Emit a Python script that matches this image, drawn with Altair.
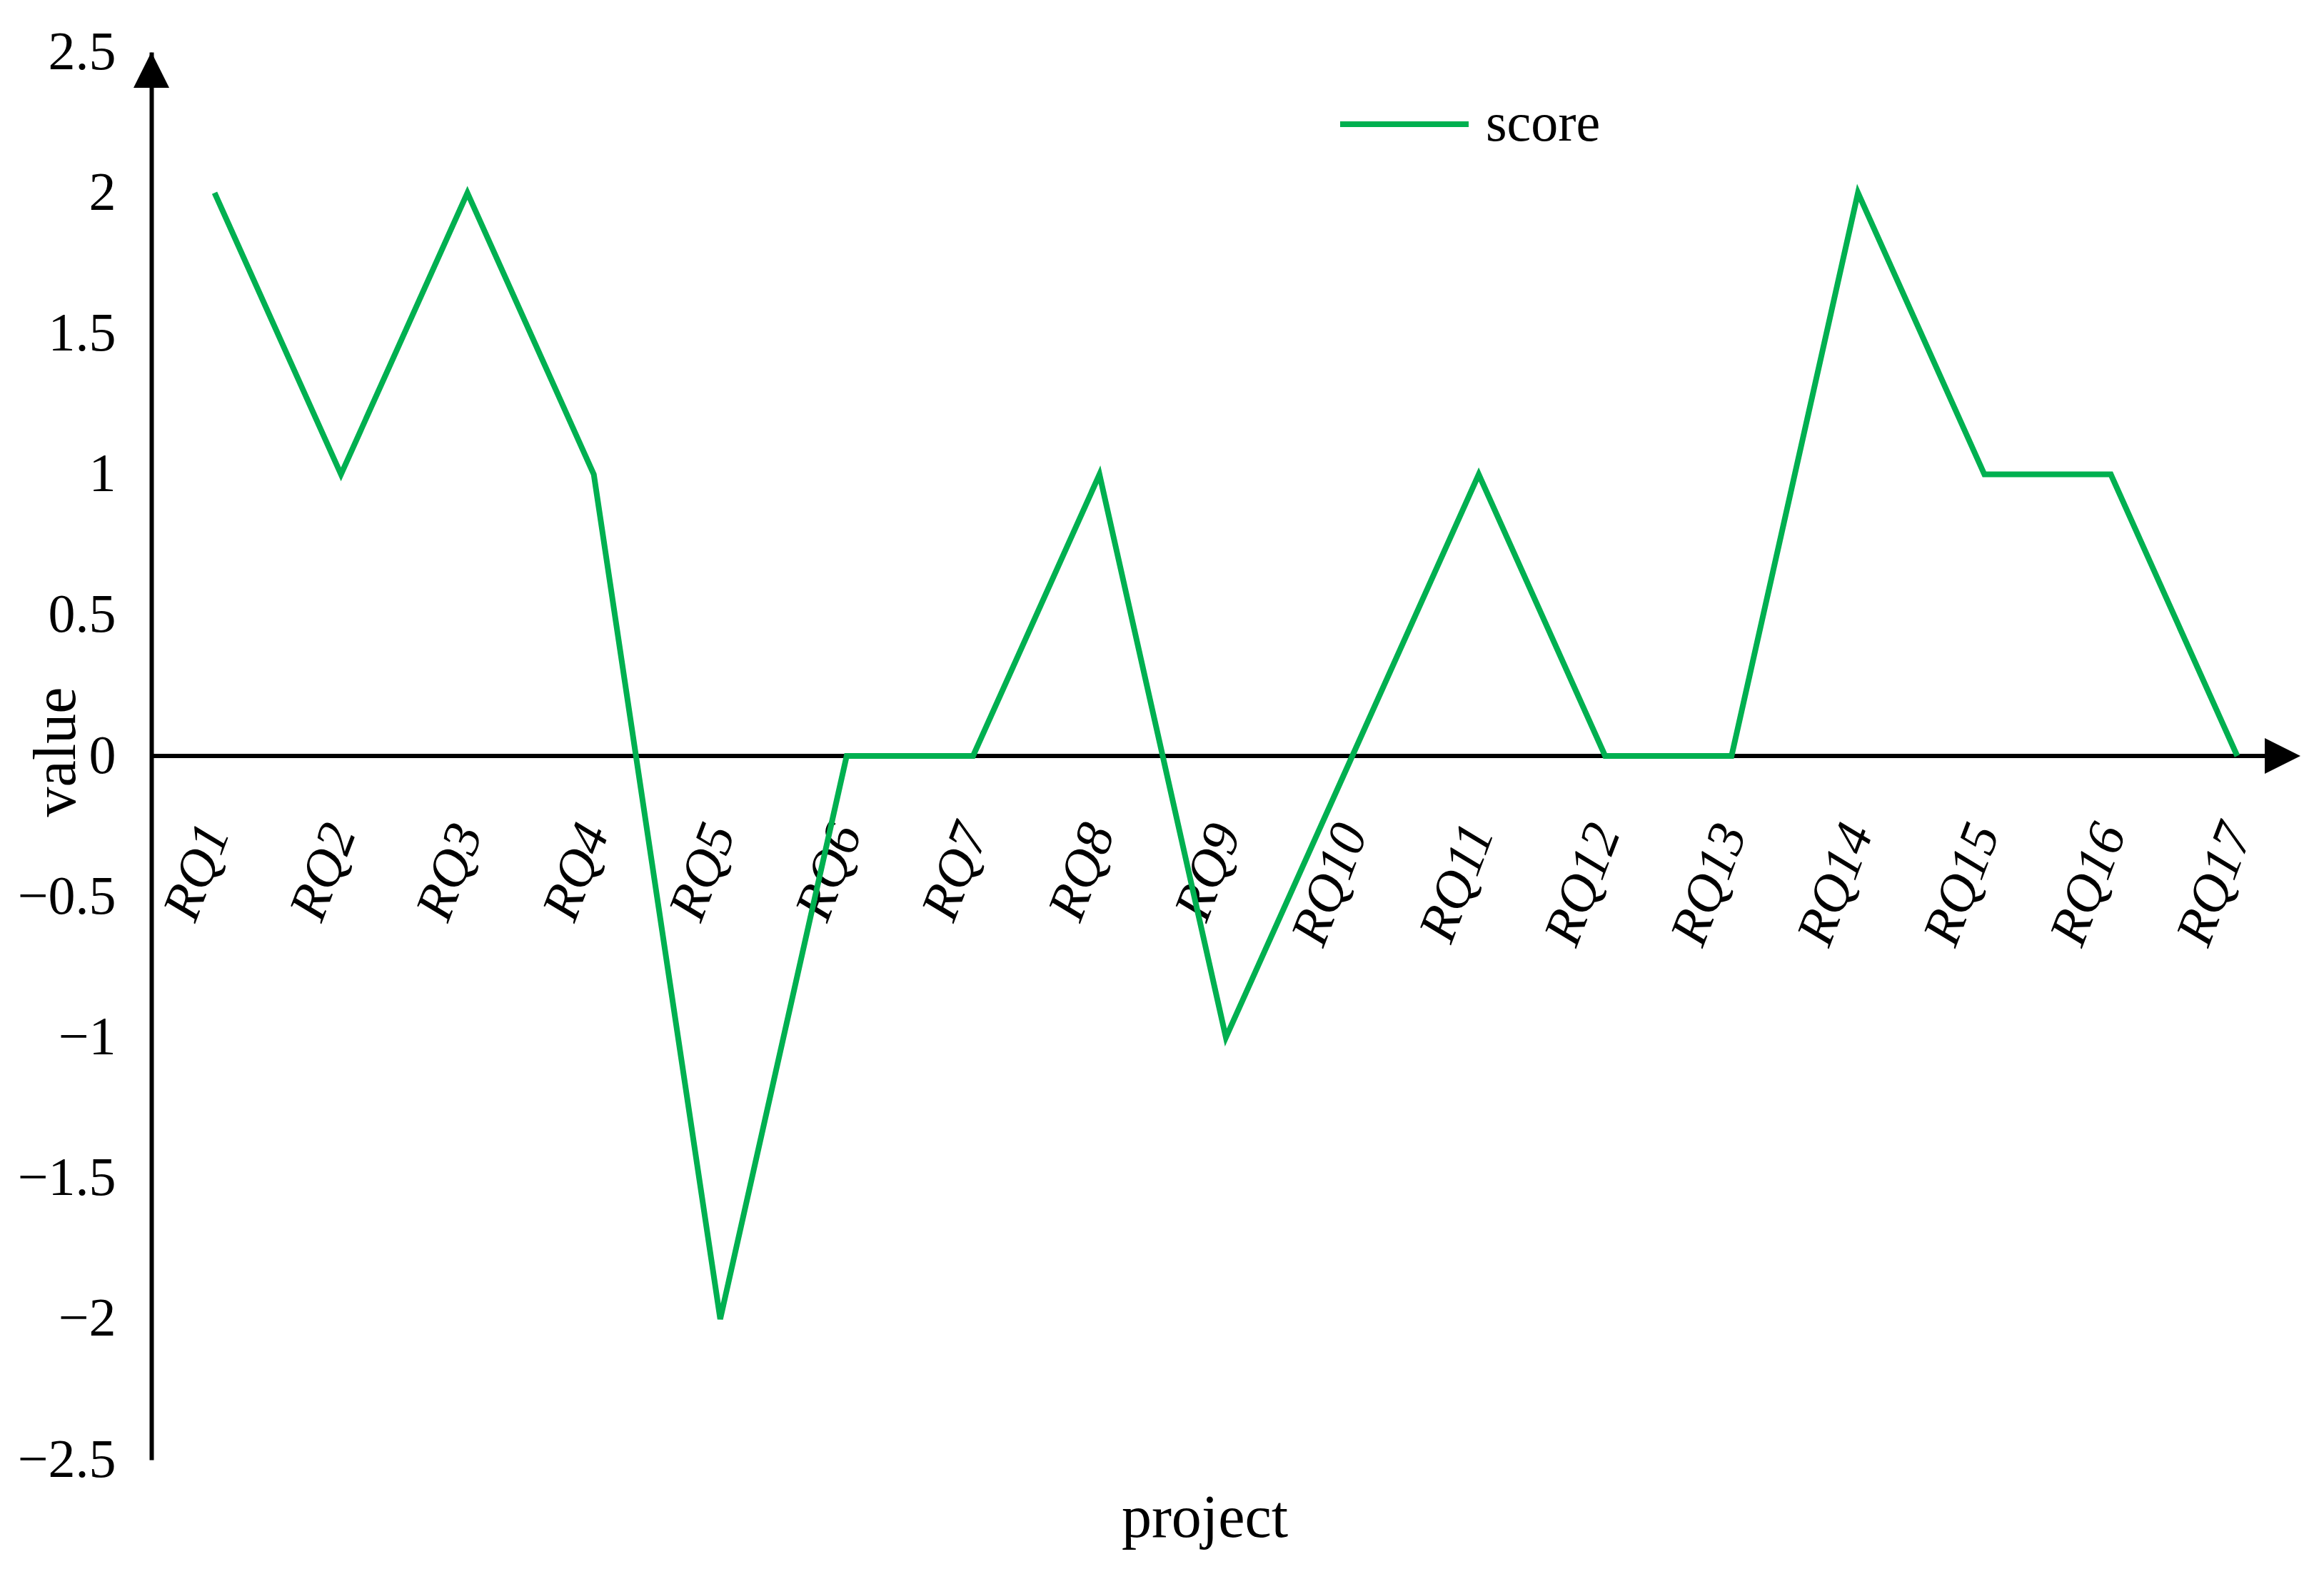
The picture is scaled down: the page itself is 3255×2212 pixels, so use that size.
import altair as alt
import pandas as pd

# ---- data ----
projects = ["RQ1", "RQ2", "RQ3", "RQ4", "RQ5", "RQ6", "RQ7", "RQ8", "RQ9",
            "RQ10", "RQ11", "RQ12", "RQ13", "RQ14", "RQ15", "RQ16", "RQ17"]
scores = [2, 1, 2, 1, -2, 0, 0, 1, -1, 0, 1, 0, 0, 2, 1, 1, 0]
y_ticks = [-2.5, -2, -1.5, -1, -0.5, 0, 0.5, 1, 1.5, 2, 2.5]
series_name = "score"

df = pd.DataFrame({"project": projects, "value": scores, "series": series_name})

PLOT_W = 3010
PLOT_H = 1972
FONT = "Liberation Serif"
GREEN = "#00B050"
AXIS_W = 6
ARROW = 50

x_enc = alt.X(
    "project:N",
    sort=projects,
    scale=alt.Scale(type="point", padding=0.5),
    axis=alt.Axis(
        title="project",
        titleFont=FONT,
        titleFontSize=84,
        titleFontWeight="normal",
        titleColor="black",
        titleBaseline="alphabetic",
        titleX=1475,
        titleY=1093,
        labelFont=FONT,
        labelFontSize=75,
        labelFontStyle="italic",
        labelColor="black",
        labelAngle=-69,
        labelAlign="right",
        labelBaseline="middle",
        labelPadding=98,
        labelLimit=0,
        ticks=False,
        tickSize=0,
        domain=False,
        grid=False,
        offset=-PLOT_H / 2,
    ),
)

y_scale = alt.Scale(domain=[-2.5, 2.5], nice=False, zero=False)

y_enc = alt.Y(
    "value:Q",
    scale=y_scale,
    axis=alt.Axis(
        title="value",
        values=y_ticks,
        format="~g",
        titleFont=FONT,
        titleFontSize=84,
        titleFontWeight="normal",
        titleColor="black",
        titleAngle=-90,
        titleBaseline="alphabetic",
        titleX=-108,
        titleY=980,
        labelFont=FONT,
        labelFontSize=76,
        labelColor="black",
        labelPadding=50,
        ticks=False,
        tickSize=0,
        domain=True,
        domainColor="black",
        domainWidth=AXIS_W,
        grid=False,
    ),
)

line = alt.Chart(df).mark_line(strokeWidth=8, strokeJoin="miter").encode(
    x=x_enc,
    y=y_enc,
    color=alt.Color(
        "series:N",
        scale=alt.Scale(domain=[series_name], range=[GREEN]),
        legend=alt.Legend(
            title=None,
            orient="none",
            legendX=1661,
            legendY=7,
            symbolType="stroke",
            symbolSize=180 * 180,
            symbolStrokeWidth=8,
            symbolStrokeColor=GREEN,
            labelFont=FONT,
            labelFontSize=76,
            labelColor="black",
            labelOffset=20,
            labelLimit=0,
            padding=0,
        ),
    ),
)

one = alt.Data(values=[{"a": 0}])

zero_line = alt.Chart(one).mark_rule(color="black", strokeWidth=AXIS_W).encode(
    y=alt.datum(0, scale=y_scale),
    x=alt.value(0),
    x2=alt.value(PLOT_W - ARROW / 2),
)

arrow_up = alt.Chart(one).mark_point(
    shape="M0,-1L1,1L-1,1Z", filled=True, color="black", opacity=1,
    size=ARROW * ARROW, strokeWidth=0,
).encode(x=alt.value(0), y=alt.value(ARROW / 2))

arrow_right = alt.Chart(one).mark_point(
    shape="M1,0L-1,-1L-1,1Z", filled=True, color="black", opacity=1,
    size=ARROW * ARROW, strokeWidth=0,
).encode(x=alt.value(PLOT_W - ARROW / 2), y=alt.datum(0, scale=y_scale))

chart = alt.layer(zero_line, line, arrow_up, arrow_right).properties(
    width=PLOT_W,
    height=PLOT_H,
    background="white",
    autosize=alt.AutoSizeParams(type="none"),
    padding={"left": 204, "top": 65, "right": 25, "bottom": 160},
).configure_view(stroke=None, strokeWidth=0)

chart.save("out.html", embed_options={"renderer": "svg", "actions": False})
